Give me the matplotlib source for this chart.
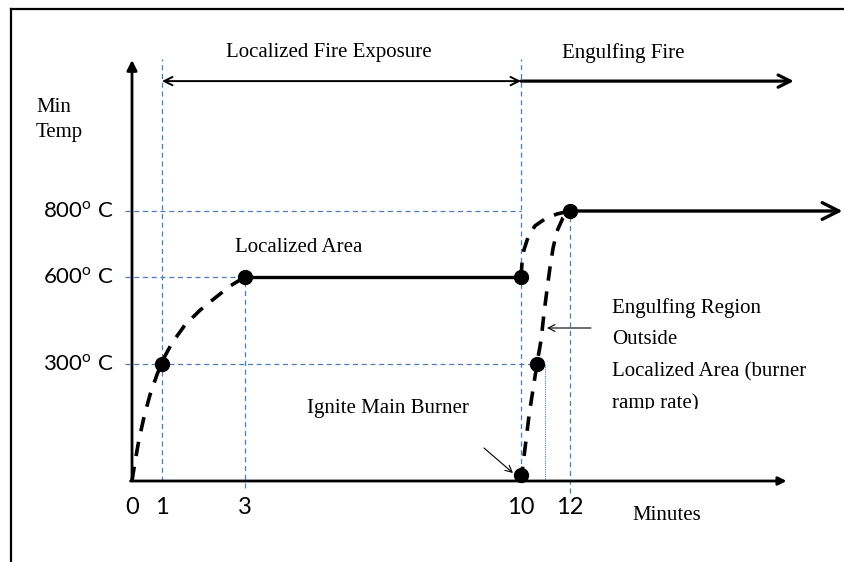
import numpy as np
import matplotlib.pyplot as plt
from matplotlib.lines import Line2D
from matplotlib.transforms import Bbox, TransformedBbox, blended_transform_factory

plt.rcParams['mathtext.fontset'] = 'custom'
plt.rcParams['mathtext.rm'] = 'Lato'

# ---- values ----
tick_minutes = [0, 1, 3, 10, 12]
tick_temps = [300, 600, 800]
temp_labels = [r'300$^{\mathrm{o}}$ C', r'600$^{\mathrm{o}}$ C', r'800$^{\mathrm{o}}$ C']

# localized area: ramp from ignition to 600 C at 3 min
local_rise_min = [0, 0.1, 0.23, 0.4, 0.6, 0.83, 1.02, 1.24, 1.55, 1.92, 2.28, 2.64, 3.0]
local_rise_temp = [0, 49, 105, 164, 221, 272, 314, 372, 434, 486, 528, 569, 600]

# localized area hold, then rise to 800 C
hold_min = [3, 10]
hold_temp = [600, 600]
local_up_min = [10, 10.04, 10.12, 10.29, 10.57, 10.98, 11.47, 12]
local_up_temp = [600, 642, 682, 721, 755, 776, 791, 800]

# engulfing region outside the localized area (burner ramp rate)
engulf_min = [10, 10.33, 10.65, 10.82, 10.94, 11.06, 11.18, 11.31, 11.47, 11.71, 12]
engulf_temp = [0, 169, 300, 383, 476, 555, 627, 688, 739, 779, 800]

point_min = [1, 3, 10, 12, 10.65, 10]
point_temp = [300, 600, 600, 800, 300, 15]

# ---- the schematic's uneven axes (minutes / deg C -> pixels of the sheet) ----
W, H = 845, 562
x_anchor_min = [-4.4, 0, 1, 3, 10, 12, 23.3]
x_anchor_px = [0, 132, 162, 245, 521, 570, 845]
y_anchor_temp = [-210, 0, 300, 600, 800, 1440]
y_anchor_px = [0, 81, 198, 285, 351, 562]


def warp(src, dst):
    return (lambda v: np.interp(v, src, dst), lambda v: np.interp(v, dst, src))


fig = plt.figure(figsize=(W / 100, H / 100), dpi=100)
ax = fig.add_axes([0, 0, 1, 1])
ax.set_xscale('function', functions=warp(x_anchor_min, x_anchor_px))
ax.set_yscale('function', functions=warp(y_anchor_temp, y_anchor_px))
ax.set_xlim(x_anchor_min[0], x_anchor_min[-1])
ax.set_ylim(y_anchor_temp[0], y_anchor_temp[-1])
ax.axis('off')


def fpx(x, y):
    # reference-sheet pixel -> figure fraction
    return x / W, 1 - y / H


tf = fig.transFigure
xdata_yfig = blended_transform_factory(ax.transData, tf)
xfig_ydata = blended_transform_factory(tf, ax.transData)

# frame of the sheet
fig.add_artist(Line2D([11 / W, 11 / W], [0, 1 - 9 / H], transform=tf, color='black', lw=1.6))
fig.add_artist(Line2D([11 / W, 1], [1 - 9 / H, 1 - 9 / H], transform=tf, color='black', lw=1.6))

blue = '#4a7ebb'
top = 1260
# guide lines
ax.vlines([1, 10], 0, top, colors=blue, lw=0.9, linestyles=(0, (4, 3)))
ax.vlines(3, -18, 600, colors=blue, lw=0.9, linestyles=(0, (4, 3)))
ax.vlines(12, -31, 800, colors=blue, lw=0.9, linestyles=(0, (4, 3)))
ax.vlines(11, 0, 300, colors=blue, lw=0.8, linestyles=(0, (1, 1)))
ax.hlines(800, -0.23, 10, colors=blue, lw=0.9, linestyles=(0, (4, 3)))
ax.hlines(600, -0.23, 3, colors=blue, lw=0.9, linestyles=(0, (4, 3)))
ax.hlines(300, -0.23, 10.65, colors=blue, lw=0.9, linestyles=(0, (4, 3)))

# axes with arrows
ax.annotate('', xy=(0, 1258), xytext=(0, 0),
            arrowprops=dict(arrowstyle='-|>', lw=2.0, color='black', shrinkA=0, shrinkB=0,
                            mutation_scale=15))
ax.annotate('', xy=(20.9, 0), xytext=(-0.05, 0),
            arrowprops=dict(arrowstyle='-|>', lw=2.0, color='black', shrinkA=0, shrinkB=0,
                            mutation_scale=12))

# phase arrows on top
ax.annotate('', xy=(10, 1194), xytext=(1, 1194),
            arrowprops=dict(arrowstyle='<->', lw=1.4, color='black', shrinkA=0, shrinkB=0,
                            mutation_scale=15))
ax.annotate('', xy=(21.2, 1194), xytext=(10, 1194),
            arrowprops=dict(arrowstyle='->', lw=2.3, color='black', shrinkA=0, shrinkB=0,
                            mutation_scale=22))

# temperature curves
dash = (0, (4, 3))
ax.plot(local_rise_min, local_rise_temp, color='black', lw=2.6, linestyle=dash)
ax.plot(hold_min, hold_temp, color='black', lw=2.4)
ax.plot(local_up_min, local_up_temp, color='black', lw=2.6, linestyle=dash)
ax.plot(engulf_min, engulf_temp, color='black', lw=2.6, linestyle=dash)
ax.annotate('', xy=(23.2, 800), xytext=(12, 800),
            arrowprops=dict(arrowstyle='->', lw=2.4, color='black', shrinkA=0, shrinkB=0,
                            mutation_scale=30))
ax.plot(point_min, point_temp, 'o', color='black', ms=10, zorder=5)

# pointer arrows
ax.annotate('', xy=fpx(513, 473), xytext=fpx(484, 448), xycoords=tf, textcoords=tf,
            arrowprops=dict(arrowstyle='->', lw=0.8, color='black', shrinkA=0, shrinkB=0,
                            mutation_scale=12))
ax.annotate('', xy=fpx(547, 328), xytext=fpx(591, 328), xycoords=tf, textcoords=tf,
            arrowprops=dict(arrowstyle='->', lw=0.8, color='black', shrinkA=0, shrinkB=0,
                            mutation_scale=12))

# tick labels
sans = 'Lato'
for m in tick_minutes:
    ax.text(m, 1 - 508 / H, str(m), transform=xdata_yfig, ha='center', va='center',
            fontsize=17, family=sans)
for t, lab in zip(tick_temps, temp_labels):
    ax.text(113 / W, t, lab, transform=xfig_ydata, ha='right', va='center',
            fontsize=16, family=sans)

# annotations
serif = 'Liberation Serif'
fs = 15
ax.text(*fpx(329, 52), 'Localized Fire Exposure', transform=tf, ha='center', va='center',
        fontsize=fs, family=serif)
ax.text(*fpx(562, 53), 'Engulfing Fire', transform=tf, ha='left', va='center',
        fontsize=fs, family=serif)
ax.text(*fpx(36, 107), 'Min', transform=tf, ha='left', va='center', fontsize=fs, family=serif)
ax.text(*fpx(36, 133), 'Temp', transform=tf, ha='left', va='center', fontsize=fs, family=serif)
ax.text(*fpx(235, 248), 'Localized Area', transform=tf, ha='left', va='center',
        fontsize=fs, family=serif)
ax.text(*fpx(388, 409), 'Ignite Main Burner', transform=tf, ha='center', va='center',
        fontsize=fs, family=serif)
ax.text(*fpx(632, 515), 'Minutes', transform=tf, ha='left', va='center',
        fontsize=fs, family=serif)
right_lines = ['Engulfing Region', 'Outside', 'Localized Area (burner', 'ramp rate)']
for line, yy in zip(right_lines, [308, 339, 372, 403]):
    t = ax.text(*fpx(612, yy), line, transform=tf, ha='left', va='center',
                fontsize=fs, family=serif)
    t.set_clip_box(TransformedBbox(Bbox([[0, 1 - 409 / H], [1, 1]]), tf))
    t.set_clip_on(True)

fig.savefig('out.png', dpi=100)
